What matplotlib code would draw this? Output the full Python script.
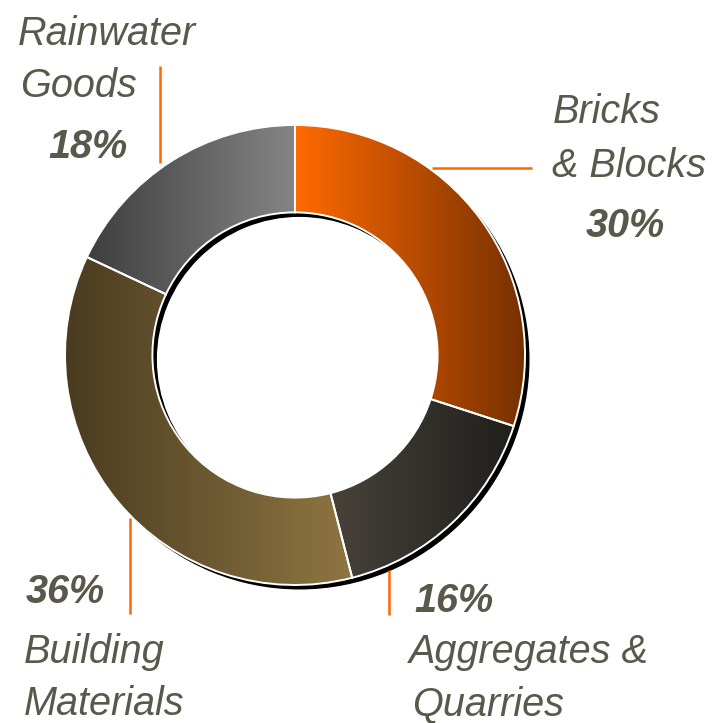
import numpy as np
import matplotlib
matplotlib.use("Agg")
import matplotlib.pyplot as plt
from matplotlib.patches import Wedge
from matplotlib.colors import LinearSegmentedColormap

# --- data -------------------------------------------------------------
categories = ["Bricks\n& Blocks", "Aggregates &\nQuarries",
              "Building\nMaterials", "Rainwater\nGoods"]
shares = [30, 16, 36, 18]
pct_labels = [f"{v}%" for v in shares]

# left -> right gradient colours of each segment
grad_left = ["#ff6a00", "#47433b", "#4a3b20", "#3e3e3e"]
grad_right = ["#773000", "#1f1f1c", "#8f7642", "#858585"]

TEXT = "#5a584a"
LEADER = "#ff6600"

# --- figure in pixel-like units -----------------------------------------
W, H, DPI = 713, 723, 100
fig = plt.figure(figsize=(W / DPI, H / DPI), dpi=DPI)
ax = fig.add_axes([0, 0, 1, 1])
ax.set_axis_off()

cx, cy, R = 295, 355, 230          # ring centre / outer radius in pixels


def px(x, y):
    """pixel position (from top-left) -> data coordinates"""
    return (x - cx) / R, (cy - y) / R


ring_w = 0.38

# drop shadow of the ring
sx, sy = 4.5 / R, -4.5 / R
ax.add_patch(Wedge((sx, sy), 1.0, 0, 360, width=ring_w,
                   facecolor="black", edgecolor="none", zorder=1))

wedges, _ = ax.pie(shares, startangle=90, counterclock=False,
                   radius=1.0, center=(0, 0),
                   wedgeprops=dict(width=ring_w, edgecolor="white",
                                   linewidth=1.4))

grad = np.linspace(0, 1, 256).reshape(1, -1)
for w, cl, cr in zip(wedges, grad_left, grad_right):
    w.set_zorder(3)
    w.set_facecolor("none")
    bb = w.get_path().get_extents(w.get_patch_transform())
    cmap = LinearSegmentedColormap.from_list("g", [cl, cr])
    im = ax.imshow(grad, cmap=cmap, aspect="auto",
                   extent=(bb.x0, bb.x1, bb.y0, bb.y1),
                   interpolation="bilinear", zorder=2)
    im.set_clip_path(w)

ax.set_xlim(px(0, 0)[0], px(W, 0)[0])
ax.set_ylim(px(0, H)[1], px(0, 0)[1])

# --- leader lines ---------------------------------------------------------
leaders = [((432, 168), (532, 168)),
           ((389, 570), (389, 615)),
           ((130, 518), (130, 614)),
           ((160, 66), (160, 163))]
for (x0, y0), (x1, y1) in leaders:
    a, b = px(x0, y0), px(x1, y1)
    ax.plot([a[0], b[0]], [a[1], b[1]], color=LEADER, lw=1.8,
            solid_capstyle="butt", zorder=4)

# --- labels ---------------------------------------------------------------
FAM = ["Liberation Sans Narrow", "Liberation Sans", "DejaVu Sans"]
FS = 28.5


def put(x, y, s, bold=False):
    p = px(x, y)
    ax.text(p[0], p[1], s, fontsize=FS, family=FAM, style="italic",
            weight="bold" if bold else "normal", color=TEXT,
            ha="left", va="baseline", zorder=5)


# name lines and percentage positions (pixel baselines)
name_pos = [[(553, 123), (552, 177)],
            [(409, 663), (412, 715)],
            [(24, 663), (24, 715)],
            [(18, 45), (20, 97)]]
pct_pos = [(586, 237), (414, 612), (26, 603), (48, 158)]

for name, pct, lines_xy, pxy in zip(categories, pct_labels, name_pos, pct_pos):
    for line, (x, y) in zip(name.split("\n"), lines_xy):
        put(x, y, line)
    put(pxy[0], pxy[1], pct, bold=True)

fig.savefig("out.png", dpi=DPI)
